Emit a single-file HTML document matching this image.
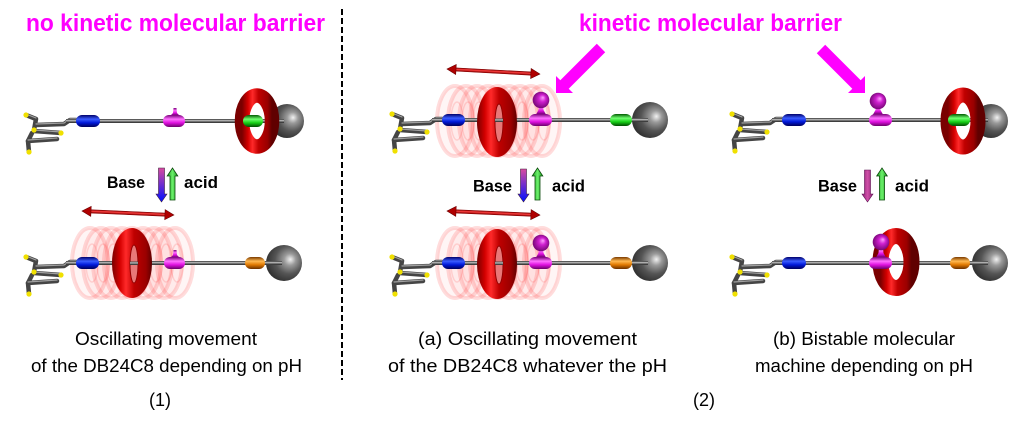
<!DOCTYPE html>
<html><head><meta charset="utf-8"><style>
html,body{margin:0;padding:0;background:#fff;}
svg{display:block}
</style></head><body>
<svg width="1027" height="425" viewBox="0 0 1027 425" xmlns="http://www.w3.org/2000/svg" xmlns:xlink="http://www.w3.org/1999/xlink" font-family="'Liberation Sans', Arial, sans-serif">
<defs>
 <linearGradient id="gB" x1="0" y1="0" x2="0" y2="1"><stop offset="0" stop-color="#00006a"/><stop offset=".35" stop-color="#3a5cff"/><stop offset=".65" stop-color="#0018d8"/><stop offset="1" stop-color="#00005a"/></linearGradient>
 <linearGradient id="gM" x1="0" y1="0" x2="0" y2="1"><stop offset="0" stop-color="#7a007a"/><stop offset=".35" stop-color="#ff70ff"/><stop offset=".65" stop-color="#e010e0"/><stop offset="1" stop-color="#6a006a"/></linearGradient>
 <linearGradient id="gG" x1="0" y1="0" x2="0" y2="1"><stop offset="0" stop-color="#005a00"/><stop offset=".35" stop-color="#70ff70"/><stop offset=".65" stop-color="#18d018"/><stop offset="1" stop-color="#004a00"/></linearGradient>
 <linearGradient id="gO" x1="0" y1="0" x2="0" y2="1"><stop offset="0" stop-color="#7a3a00"/><stop offset=".35" stop-color="#ffb850"/><stop offset=".65" stop-color="#e07800"/><stop offset="1" stop-color="#6a3000"/></linearGradient>
 <linearGradient id="gA" x1="0" y1="0" x2="0" y2="1"><stop offset="0" stop-color="#2a2a2a"/><stop offset=".4" stop-color="#c4c4c4"/><stop offset=".7" stop-color="#5a5a5a"/><stop offset="1" stop-color="#2a2a2a"/></linearGradient>
 <linearGradient id="gT" x1="0" y1="0" x2="1" y2="0"><stop offset="0" stop-color="#7a0000"/><stop offset=".2" stop-color="#d40000"/><stop offset=".35" stop-color="#ff2a2a"/><stop offset=".55" stop-color="#c00000"/><stop offset=".85" stop-color="#9a0000"/><stop offset="1" stop-color="#600000"/></linearGradient>
 <radialGradient id="gS" cx=".62" cy=".42" r=".65" fx=".68" fy=".4"><stop offset="0" stop-color="#f2f2f2"/><stop offset=".25" stop-color="#9a9a9a"/><stop offset=".6" stop-color="#555"/><stop offset="1" stop-color="#2e2e2e"/></radialGradient>
 <radialGradient id="gBall" cx=".5" cy=".5" r=".6" fx=".62" fy=".35"><stop offset="0" stop-color="#ffa0ff"/><stop offset=".35" stop-color="#d020d0"/><stop offset="1" stop-color="#600060"/></radialGradient>
 <linearGradient id="gDn" x1="0" y1="0" x2="0" y2="1"><stop offset="0" stop-color="#d84aa0"/><stop offset="1" stop-color="#0010ff"/></linearGradient>
 <linearGradient id="gUp" x1="0" y1="0" x2="1" y2="0"><stop offset="0" stop-color="#1a9a1a"/><stop offset=".5" stop-color="#6cf06c"/><stop offset="1" stop-color="#1a9a1a"/></linearGradient>
 <linearGradient id="gP" x1="0" y1="0" x2="1" y2="0"><stop offset="0" stop-color="#8a2070"/><stop offset=".5" stop-color="#d050a8"/><stop offset="1" stop-color="#8a2070"/></linearGradient>
 <linearGradient id="gR" x1="0" y1="0" x2="0" y2="1"><stop offset="0" stop-color="#7a0000"/><stop offset=".4" stop-color="#ff4040"/><stop offset="1" stop-color="#8a0000"/></linearGradient>
 <g id="st" fill="none" stroke-linecap="round" stroke-linejoin="round">
  <g stroke="#454545" stroke-width="4.5">
   <path d="M-44,-6 L-34,-2 L-36,9"/>
   <path d="M-42,20 L-13,18"/>
   <path d="M-38,12 L-42,20 L-41,31"/>
   <path d="M-34,4 L-6,3 L0,-1 L6,-1"/>
   <path d="M-36,10 L-9,12"/>
  </g>
  <g stroke="#a0a0a0" stroke-width="1.2">
   <path d="M-44,-7 L-34,-3"/>
   <path d="M-42,19 L-13,17"/>
   <path d="M-34,3 L-6,2 L0,-2 L6,-2"/>
   <path d="M-36,9 L-9,11"/>
  </g>
  <g fill="#f0e000" stroke="none">
   <circle cx="-44" cy="-6" r="2.6"/>
   <circle cx="-36" cy="9" r="2.6"/>
   <circle cx="-9" cy="12" r="2.6"/>
   <circle cx="-41" cy="31" r="2.6"/>
  </g>
 </g>
 <g id="ghost" fill="rgba(255,0,0,0.04)" stroke="rgba(255,40,40,0.16)" stroke-width="4">
  <ellipse cx="0" cy="0" rx="18" ry="35"/>
  <ellipse cx="2" cy="0" rx="6" ry="19" stroke-width="1.5" fill="none" stroke="rgba(255,0,0,0.12)"/>
 </g>
</defs>

<rect width="1027" height="425" fill="#fff"/>

<!-- titles -->
<text x="26" y="31" font-size="24" font-weight="bold" fill="#ff00ff" textLength="299" lengthAdjust="spacingAndGlyphs">no kinetic molecular barrier</text>
<text x="579" y="31" font-size="24" font-weight="bold" fill="#ff00ff" textLength="263" lengthAdjust="spacingAndGlyphs">kinetic molecular barrier</text>

<!-- dashed divider -->
<line x1="342" y1="9" x2="342" y2="380" stroke="#000" stroke-width="2" stroke-dasharray="6,3"/>

<!-- ============ PANEL 1 TOP ============ -->
<use xlink:href="#st" href="#st" transform="translate(70,121)"/>
<circle cx="287" cy="121" r="17" fill="url(#gS)"/>
<rect x="66" y="119" width="218" height="4" fill="url(#gA)"/>
<rect x="76" y="115" width="24" height="12" rx="6" fill="url(#gB)"/>
<polygon points="173.5,108 176.5,108 177,113 179.5,115.5 170.5,115.5 173,113" fill="url(#gM)"/>
<rect x="163" y="115" width="22" height="12" rx="6" fill="url(#gM)"/>
<ellipse cx="257" cy="121" rx="15" ry="25.5" fill="none" stroke="url(#gT)" stroke-width="14.5"/>
<rect x="243" y="115" width="20" height="12" rx="6" fill="url(#gG)"/>

<!-- base/acid p1 -->
<text x="107" y="188" font-size="17" font-weight="bold" fill="#000" textLength="38" lengthAdjust="spacingAndGlyphs">Base</text>
<polygon points="158.5,168 164.5,168 164.5,194 167,194 161.5,202 156,194 158.5,194" fill="url(#gDn)" stroke="#402040" stroke-width=".6"/>
<polygon points="170,200 175,200 175,176 177.8,176 172.5,168 167.2,176 170,176" fill="url(#gUp)" stroke="#0a4a0a" stroke-width=".8"/>
<text x="184" y="188" font-size="17" font-weight="bold" fill="#000" textLength="34" lengthAdjust="spacingAndGlyphs">acid</text>

<!-- ============ PANEL 1 BOTTOM ============ -->
<g transform="translate(0,263)">
 <use xlink:href="#ghost" href="#ghost" x="90"/><use xlink:href="#ghost" href="#ghost" x="101"/><use xlink:href="#ghost" href="#ghost" x="111"/>
 <use xlink:href="#ghost" href="#ghost" x="122"/><use xlink:href="#ghost" href="#ghost" x="132"/><use xlink:href="#ghost" href="#ghost" x="143"/>
 <use xlink:href="#ghost" href="#ghost" x="154"/><use xlink:href="#ghost" href="#ghost" x="164"/><use xlink:href="#ghost" href="#ghost" x="175"/>
</g>
<use xlink:href="#st" href="#st" transform="translate(70,263)"/>
<circle cx="284" cy="263" r="18" fill="url(#gS)"/>
<rect x="66" y="261" width="216" height="4" fill="url(#gA)"/>
<rect x="76" y="257" width="23" height="12" rx="6" fill="url(#gB)"/>
<polygon points="173.5,250 176.5,250 177,255 179.5,257.5 170.5,257.5 173,255" fill="url(#gM)"/>
<rect x="164" y="257" width="21" height="12" rx="6" fill="url(#gM)"/>
<rect x="245" y="257" width="20" height="12" rx="6" fill="url(#gO)"/>
<ellipse cx="132" cy="263" rx="20" ry="35" fill="url(#gT)"/>
<ellipse cx="134" cy="264" rx="4" ry="19" fill="#e87878" stroke="#900000" stroke-width="1"/>
<rect x="130" y="261.5" width="8" height="3.5" fill="url(#gA)"/>
<g transform="translate(82,211) rotate(2.5)">
 <rect x="7" y="-1.6" width="78" height="3.2" fill="url(#gR)" stroke="#8a0000" stroke-width=".6"/>
 <polygon points="0,0 9,-5 9,5" fill="#b00000" stroke="#6a0000" stroke-width=".6"/>
 <polygon points="92,0 83,-5 83,5" fill="#b00000" stroke="#6a0000" stroke-width=".6"/>
</g>

<!-- ============ PANEL 2a TOP ============ -->
<g transform="translate(0,121)">
 <use xlink:href="#ghost" href="#ghost" x="455"/><use xlink:href="#ghost" href="#ghost" x="466"/><use xlink:href="#ghost" href="#ghost" x="477"/>
 <use xlink:href="#ghost" href="#ghost" x="488"/><use xlink:href="#ghost" href="#ghost" x="498"/><use xlink:href="#ghost" href="#ghost" x="509"/>
 <use xlink:href="#ghost" href="#ghost" x="520"/><use xlink:href="#ghost" href="#ghost" x="531"/><use xlink:href="#ghost" href="#ghost" x="542"/>
</g>
<use xlink:href="#st" href="#st" transform="translate(436,120)"/>
<circle cx="650" cy="120" r="18" fill="url(#gS)"/>
<rect x="432" y="118" width="216" height="4" fill="url(#gA)"/>
<rect x="442" y="114" width="23" height="12" rx="6" fill="url(#gB)"/>
<polygon points="539,104 543,104 543.5,110 546,114.5 536,114.5 538.5,110" fill="url(#gM)"/>
<rect x="529" y="114" width="23" height="12" rx="6" fill="url(#gM)"/>
<circle cx="541" cy="100" r="8.3" fill="url(#gBall)"/>
<rect x="610" y="114" width="22" height="12" rx="6" fill="url(#gG)"/>
<ellipse cx="497" cy="122" rx="20" ry="35" fill="url(#gT)"/>
<ellipse cx="499" cy="123" rx="4" ry="19" fill="#e87878" stroke="#900000" stroke-width="1"/>
<rect x="495" y="118.5" width="8" height="3.5" fill="url(#gA)"/>
<g transform="translate(447,69) rotate(3.1)">
 <rect x="7" y="-1.6" width="79" height="3.2" fill="url(#gR)" stroke="#8a0000" stroke-width=".6"/>
 <polygon points="0,0 9,-5 9,5" fill="#b00000" stroke="#6a0000" stroke-width=".6"/>
 <polygon points="93,0 84,-5 84,5" fill="#b00000" stroke="#6a0000" stroke-width=".6"/>
</g>
<!-- big magenta arrow 2a -->
<polygon points="605.2,52.2 568.7,88.7 573,93 556,93 556,76 560.3,80.3 596.8,43.8" fill="#ff00ff"/>

<!-- base/acid p2a -->
<text x="473" y="191.5" font-size="17" font-weight="bold" fill="#000" textLength="39" lengthAdjust="spacingAndGlyphs">Base</text>
<polygon points="520.5,169 526.5,169 526.5,194 529,194 523.5,202 518,194 520.5,194" fill="url(#gDn)" stroke="#402040" stroke-width=".6"/>
<polygon points="535,200 540,200 540,176 542.8,176 537.5,168 532.2,176 535,176" fill="url(#gUp)" stroke="#0a4a0a" stroke-width=".8"/>
<text x="552" y="191.5" font-size="17" font-weight="bold" fill="#000" textLength="33" lengthAdjust="spacingAndGlyphs">acid</text>

<!-- ============ PANEL 2a BOTTOM ============ -->
<g transform="translate(0,263)">
 <use xlink:href="#ghost" href="#ghost" x="455"/><use xlink:href="#ghost" href="#ghost" x="466"/><use xlink:href="#ghost" href="#ghost" x="477"/>
 <use xlink:href="#ghost" href="#ghost" x="488"/><use xlink:href="#ghost" href="#ghost" x="498"/><use xlink:href="#ghost" href="#ghost" x="509"/>
 <use xlink:href="#ghost" href="#ghost" x="520"/><use xlink:href="#ghost" href="#ghost" x="531"/><use xlink:href="#ghost" href="#ghost" x="542"/>
</g>
<use xlink:href="#st" href="#st" transform="translate(436,263)"/>
<circle cx="650" cy="263" r="18" fill="url(#gS)"/>
<rect x="432" y="261" width="216" height="4" fill="url(#gA)"/>
<rect x="442" y="257" width="23" height="12" rx="6" fill="url(#gB)"/>
<polygon points="539,247 543,247 543.5,253 546,257.5 536,257.5 538.5,253" fill="url(#gM)"/>
<rect x="529" y="257" width="23" height="12" rx="6" fill="url(#gM)"/>
<circle cx="541" cy="243" r="8.3" fill="url(#gBall)"/>
<rect x="610" y="257" width="22" height="12" rx="6" fill="url(#gO)"/>
<ellipse cx="497" cy="264" rx="20" ry="35" fill="url(#gT)"/>
<ellipse cx="499" cy="265" rx="4" ry="19" fill="#e87878" stroke="#900000" stroke-width="1"/>
<rect x="495" y="261.5" width="8" height="3.5" fill="url(#gA)"/>
<g transform="translate(447,211) rotate(2.5)">
 <rect x="7" y="-1.6" width="79" height="3.2" fill="url(#gR)" stroke="#8a0000" stroke-width=".6"/>
 <polygon points="0,0 9,-5 9,5" fill="#b00000" stroke="#6a0000" stroke-width=".6"/>
 <polygon points="93,0 84,-5 84,5" fill="#b00000" stroke="#6a0000" stroke-width=".6"/>
</g>

<!-- ============ PANEL 2b TOP ============ -->
<use xlink:href="#st" href="#st" transform="translate(776,120)"/>
<circle cx="991" cy="121" r="17" fill="url(#gS)"/>
<rect x="772" y="118" width="216" height="4" fill="url(#gA)"/>
<rect x="782" y="114" width="24" height="12" rx="6" fill="url(#gB)"/>
<polygon points="876,105 880,105 880.5,110 883,114.5 873,114.5 875.5,110" fill="url(#gM)"/>
<rect x="869" y="114" width="23" height="12" rx="6" fill="url(#gM)"/>
<circle cx="878" cy="101" r="8.3" fill="url(#gBall)"/>
<ellipse cx="963" cy="121" rx="15" ry="26" fill="none" stroke="url(#gT)" stroke-width="15"/>
<rect x="948" y="114" width="22" height="12" rx="6" fill="url(#gG)"/>
<!-- big magenta arrow 2b -->
<polygon points="825.2,44.8 860.7,80.3 865,76 865,93 848,93 852.3,88.7 816.8,53.2" fill="#ff00ff"/>

<!-- base/acid p2b -->
<text x="818" y="191.5" font-size="17" font-weight="bold" fill="#000" textLength="39" lengthAdjust="spacingAndGlyphs">Base</text>
<polygon points="864.5,170 870.5,170 870.5,194 873,194 867.5,202 862,194 864.5,194" fill="url(#gP)" stroke="#5a1050" stroke-width=".6"/>
<polygon points="879.5,200 884.5,200 884.5,176 887.3,176 882,168 876.7,176 879.5,176" fill="url(#gUp)" stroke="#0a4a0a" stroke-width=".8"/>
<text x="895" y="191.5" font-size="17" font-weight="bold" fill="#000" textLength="34" lengthAdjust="spacingAndGlyphs">acid</text>

<!-- ============ PANEL 2b BOTTOM ============ -->
<use xlink:href="#st" href="#st" transform="translate(776,263)"/>
<circle cx="990" cy="263" r="18" fill="url(#gS)"/>
<rect x="772" y="261" width="216" height="4" fill="url(#gA)"/>
<rect x="782" y="257" width="24" height="12" rx="6" fill="url(#gB)"/>
<ellipse cx="896" cy="262" rx="15.5" ry="26" fill="none" stroke="url(#gT)" stroke-width="16"/>
<rect x="950" y="257" width="20" height="12" rx="6" fill="url(#gO)"/>
<polygon points="879,247 883,247 883.5,253 886,257.5 876,257.5 878.5,253" fill="url(#gM)"/>
<rect x="869" y="257" width="23" height="12" rx="6" fill="url(#gM)"/>
<circle cx="881" cy="242" r="8.3" fill="url(#gBall)"/>

<!-- captions -->
<g font-size="18" fill="#000">
 <text x="75" y="345" textLength="182" lengthAdjust="spacingAndGlyphs">Oscillating movement</text>
 <text x="31" y="372" textLength="271" lengthAdjust="spacingAndGlyphs">of the DB24C8 depending on pH</text>
 <text x="149" y="406">(1)</text>
 <text x="418" y="345" textLength="219" lengthAdjust="spacingAndGlyphs">(a) Oscillating movement</text>
 <text x="388" y="372" textLength="279" lengthAdjust="spacingAndGlyphs">of the DB24C8 whatever the pH</text>
 <text x="773" y="345" textLength="182" lengthAdjust="spacingAndGlyphs">(b) Bistable molecular</text>
 <text x="755" y="372" textLength="218" lengthAdjust="spacingAndGlyphs">machine depending on pH</text>
 <text x="693" y="406">(2)</text>
</g>
</svg>
</body></html>
